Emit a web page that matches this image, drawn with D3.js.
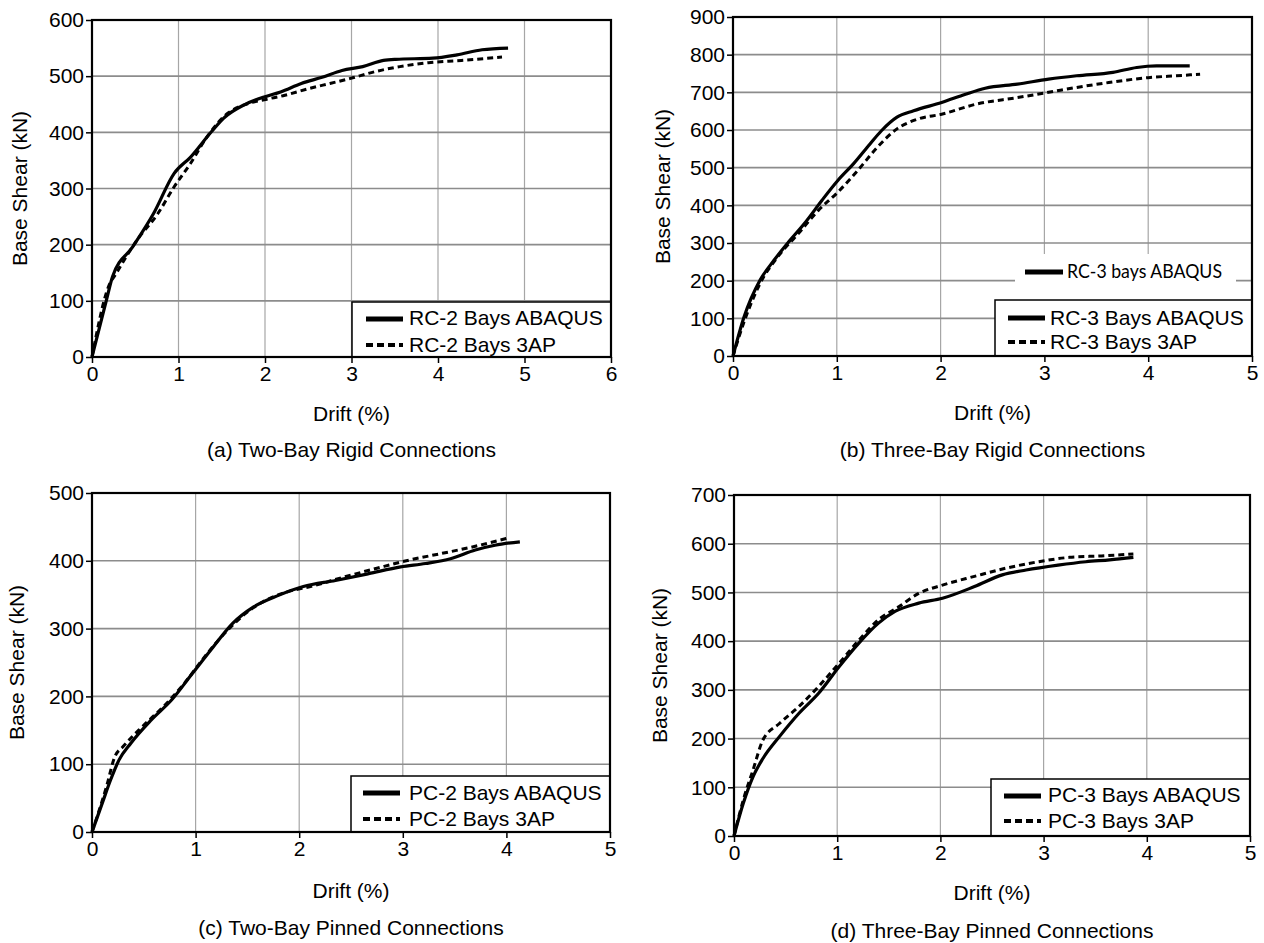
<!DOCTYPE html>
<html>
<head>
<meta charset="utf-8">
<script src="https://cdn.jsdelivr.net/npm/d3@7"></script>
<style>
  html, body { margin: 0; padding: 0; background: #fff; }
  svg { display: block; }
  text { font-family: "Liberation Sans", Arial, sans-serif; fill: #000; }
</style>
</head>
<body>
<svg id="chart" width="1264" height="943"></svg>
<script>
// ---------------- DATA ----------------
// (a) Two-Bay Rigid Connections : [drift %, base shear kN]
const rc2Abaqus = [[0,0],[0.166,101],[0.237,143],[0.47,196],[0.71,255],[0.95,327],[1.14,356],[1.38,401],[1.52,425],[1.76,449],[1.99,463],[2.18,472],[2.42,487],[2.66,498],[2.89,510],[3.13,517],[3.37,528],[3.51,530],[3.94,532],[4.22,538],[4.51,547],[4.81,550]];
const rc2ThreeAP = [[0,0],[0.19,125],[0.28,149],[0.52,208],[0.76,255],[0.95,303],[1.14,345],[1.33,392],[1.57,434],[1.76,449],[1.99,458],[2.23,466],[2.51,478],[2.75,487],[2.99,496],[3.27,508],[3.56,517],[3.89,524],[4.27,528],[4.74,534]];
// (b) Three-Bay Rigid Connections
const rc3Abaqus = [[0,0],[0.107,104],[0.26,201],[0.395,254],[0.549,307],[0.70,356],[0.856,413],[1.01,466],[1.16,510],[1.32,563],[1.43,598],[1.58,634],[1.74,651],[2.01,673],[2.24,695],[2.43,711],[2.74,722],[3.04,735],[3.31,744],[3.66,753],[3.89,766],[4.08,770],[4.40,770]];
const rc3ThreeAP = [[0,0],[0.107,91],[0.26,192],[0.43,263],[0.63,325],[0.82,386],[1.01,435],[1.2,492],[1.39,554],[1.58,603],[1.78,629],[2.01,642],[2.35,669],[2.74,686],[3.04,700],[3.31,713],[3.62,726],[4.0,739],[4.27,744],[4.5,748]];
// (c) Two-Bay Pinned Connections
const pc2Abaqus = [[0,0],[0.1,43],[0.18,77],[0.26,106],[0.375,131],[0.57,165],[0.77,195],[0.97,234],[1.17,273],[1.36,308],[1.56,332],[1.8,349],[2.04,362],[2.35,371],[2.67,381],[2.98,391],[3.22,396],[3.46,403],[3.7,416],[3.89,423],[4.13,428]];
const pc2ThreeAP = [[0,0],[0.14,67],[0.22,111],[0.3,126],[0.49,156],[0.69,185],[0.89,219],[1.09,259],[1.28,293],[1.48,322],[1.68,342],[1.88,354],[2.11,362],[2.43,376],[2.75,389],[3.06,401],[3.38,411],[3.66,420],[4.0,433]];
// (d) Three-Bay Pinned Connections
const pc3Abaqus = [[0,0],[0.09,67],[0.185,122],[0.28,159],[0.44,204],[0.63,252],[0.82,293],[1.02,348],[1.21,396],[1.4,437],[1.56,461],[1.79,478],[2.02,488],[2.33,512],[2.6,536],[2.83,546],[3.14,556],[3.41,563],[3.64,567],[3.87,572]];
const pc3ThreeAP = [[0,0],[0.09,74],[0.185,136],[0.28,197],[0.44,231],[0.63,266],[0.82,307],[1.02,355],[1.21,402],[1.4,444],[1.6,471],[1.79,498],[2.02,515],[2.33,533],[2.64,550],[2.95,563],[3.25,572],[3.56,575],[3.87,579]];

// tick labels
const xTicksA = [0,1,2,3,4,5,6];
const xTicksBCD = [0,1,2,3,4,5];
const yTicksA = [0,100,200,300,400,500,600];
const yTicksB = [0,100,200,300,400,500,600,700,800,900];
const yTicksC = [0,100,200,300,400,500];
const yTicksD = [0,100,200,300,400,500,600,700];

// texts
const xTitle = "Drift (%)";
const yTitle = "Base Shear (kN)";
const captions = ["(a) Two-Bay Rigid Connections","(b) Three-Bay Rigid Connections","(c) Two-Bay Pinned Connections","(d) Three-Bay Pinned Connections"];
const legendA = ["RC-2 Bays ABAQUS","RC-2 Bays 3AP"];
const legendB = ["RC-3 Bays ABAQUS","RC-3 Bays 3AP"];
const legendC = ["PC-2 Bays ABAQUS","PC-2 Bays 3AP"];
const legendD = ["PC-3 Bays ABAQUS","PC-3 Bays 3AP"];
const strayLegendB = "RC-3 bays ABAQUS";

// ---------------- LAYOUT ----------------
const panels = [
  {left:92, right:611, top:20, bottom:357, xTicks:xTicksA, yTicks:yTicksA, series:[rc2Abaqus, rc2ThreeAP], legend:legendA, caption:captions[0],
   yLabelX:20, xTitleY:421, captionY:457, leg:{x0:352, y0:302, lineX0:366, lineX1:403, textX:409, row1:319, row2:345, base1:325, base2:352}},
  {left:733, right:1252, top:17, bottom:356, xTicks:xTicksBCD, yTicks:yTicksB, series:[rc3Abaqus, rc3ThreeAP], legend:legendB, caption:captions[1],
   yLabelX:663, xTitleY:420, captionY:457, leg:{x0:995, y0:300, lineX0:1008, lineX1:1045, textX:1050, row1:318, row2:342, base1:325, base2:349}, stray:true},
  {left:92, right:610, top:493, bottom:832, xTicks:xTicksBCD, yTicks:yTicksC, series:[pc2Abaqus, pc2ThreeAP], legend:legendC, caption:captions[2],
   yLabelX:17, xTitleY:898, captionY:935, leg:{x0:351, y0:776, lineX0:363, lineX1:400, textX:409, row1:793, row2:819, base1:800, base2:826}},
  {left:734, right:1250, top:495, bottom:836, xTicks:xTicksBCD, yTicks:yTicksD, series:[pc3Abaqus, pc3ThreeAP], legend:legendD, caption:captions[3],
   yLabelX:660, xTitleY:900, captionY:938, leg:{x0:991, y0:779, lineX0:1004, lineX1:1041, textX:1048, row1:796, row2:821, base1:802, base2:828}}
];

const svg = d3.select("#chart");
const FS = 21;

panels.forEach(p => {
  const g = svg.append("g");
  const x = d3.scaleLinear().domain([0, d3.max(p.xTicks)]).range([p.left, p.right]);
  const y = d3.scaleLinear().domain([0, d3.max(p.yTicks)]).range([p.bottom, p.top]);

  // gridlines
  g.append("g").selectAll("line.v").data(p.xTicks.slice(1, -1)).join("line")
    .attr("x1", d => x(d)).attr("x2", d => x(d)).attr("y1", p.top).attr("y2", p.bottom)
    .attr("stroke", "#a6a6a6").attr("stroke-width", 1.2);
  g.append("g").selectAll("line.h").data(p.yTicks.slice(1, -1)).join("line")
    .attr("x1", p.left).attr("x2", p.right).attr("y1", d => y(d)).attr("y2", d => y(d))
    .attr("stroke", "#8c8c8c").attr("stroke-width", 1.6);

  // stray legend in (b)
  if (p.stray) {
    g.append("rect").attr("x", 1015).attr("y", 254).attr("width", 221).attr("height", 46).attr("fill", "#fff");
    g.append("line").attr("x1", 1025).attr("x2", 1063).attr("y1", 272).attr("y2", 272)
      .attr("stroke", "#000").attr("stroke-width", 5);
    g.append("text").attr("x", 1067).attr("y", 278).text(strayLegendB)
      .style("font-family", "Lato, 'Open Sans', sans-serif").style("font-size", "19px")
      .attr("textLength", 155).attr("lengthAdjust", "spacingAndGlyphs");
  }

  // curves
  const line = d3.line().x(d => x(d[0])).y(d => y(d[1])).curve(d3.curveMonotoneX);
  g.append("path").datum(p.series[1]).attr("d", line).attr("fill", "none")
    .attr("stroke", "#000").attr("stroke-width", 3).attr("stroke-dasharray", "6,4");
  g.append("path").datum(p.series[0]).attr("d", line).attr("fill", "none")
    .attr("stroke", "#000").attr("stroke-width", 3.2);

  // legend
  const L = p.leg;
  g.append("rect").attr("x", L.x0).attr("y", L.y0).attr("width", p.right - L.x0).attr("height", p.bottom - L.y0)
    .attr("fill", "#fff").attr("stroke", "#000").attr("stroke-width", 1.5);
  g.append("line").attr("x1", L.lineX0).attr("x2", L.lineX1).attr("y1", L.row1).attr("y2", L.row1)
    .attr("stroke", "#000").attr("stroke-width", 5);
  g.append("line").attr("x1", L.lineX0).attr("x2", L.lineX1).attr("y1", L.row2).attr("y2", L.row2)
    .attr("stroke", "#000").attr("stroke-width", 4).attr("stroke-dasharray", "7,4");
  g.append("text").attr("x", L.textX).attr("y", L.base1).style("font-size", FS + "px").text(p.legend[0]);
  g.append("text").attr("x", L.textX).attr("y", L.base2).style("font-size", FS + "px").text(p.legend[1]);

  // frame
  g.append("rect").attr("x", p.left).attr("y", p.top).attr("width", p.right - p.left).attr("height", p.bottom - p.top)
    .attr("fill", "none").attr("stroke", "#000").attr("stroke-width", 2.2);

  // axes
  const ax = g.append("g").attr("transform", `translate(0,${p.bottom})`)
    .call(d3.axisBottom(x).tickValues(p.xTicks).tickFormat(d3.format("d")).tickSize(6).tickPadding(3));
  const ay = g.append("g").attr("transform", `translate(${p.left},0)`)
    .call(d3.axisLeft(y).tickValues(p.yTicks).tickFormat(d3.format("d")).tickSize(6).tickPadding(2));
  [ax, ay].forEach(a => {
    a.select(".domain").remove();
    a.selectAll(".tick line").attr("stroke", "#000").attr("stroke-width", 1.5);
    a.selectAll(".tick text").style("font-size", FS + "px").style("font-family", "'Liberation Sans', Arial, sans-serif").attr("fill", "#000");
  });

  // titles
  const cx = (p.left + p.right) / 2;
  g.append("text").attr("x", cx).attr("y", p.xTitleY).attr("text-anchor", "middle").style("font-size", FS + "px").text(xTitle);
  g.append("text").attr("x", cx).attr("y", p.captionY).attr("text-anchor", "middle").style("font-size", FS + "px").text(p.caption);
  g.append("text").attr("transform", `translate(${p.yLabelX},${(p.top + p.bottom) / 2}) rotate(-90)`)
    .attr("text-anchor", "middle").attr("dy", "0.35em").style("font-size", FS + "px").text(yTitle);
});
</script>
</body>
</html>
